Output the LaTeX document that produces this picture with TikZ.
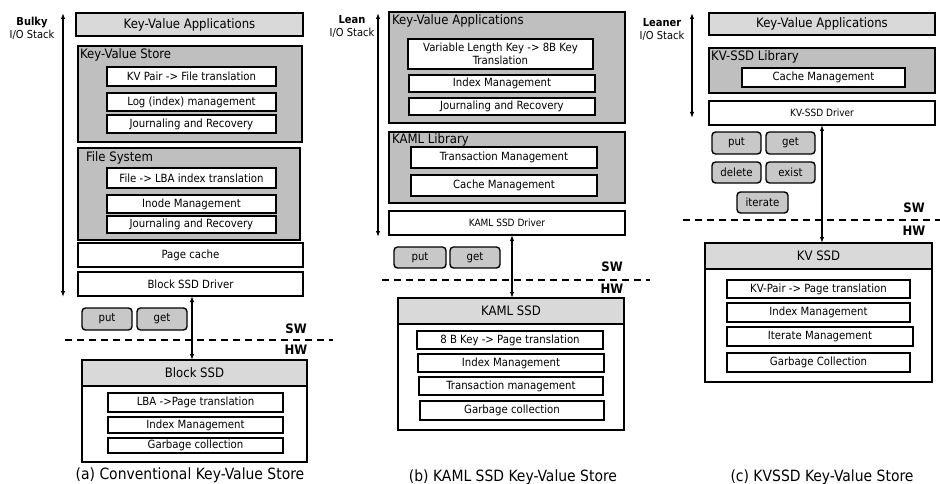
\documentclass[tikz,border=0pt]{standalone}
\usepackage{fontspec}
\setmainfont{DejaVu Sans Condensed}
\usetikzlibrary{arrows.meta}

\definecolor{lightg}{RGB}{217,217,217}
\definecolor{darkg}{RGB}{191,191,191}
\definecolor{cmdg}{RGB}{200,200,200}

% box from corner (x1,y1) to (x2,y2), pixel units, y downwards
\newcommand\bx[7]{\node[#1,minimum width={(#5-#3)*1pt},minimum height={(#6-#4)*1pt}] (#2) at ({(#3+#5)/2},{(#4+#6)/2}) {#7};}

\tikzset{
  fbig/.style={font=\fontsize{13}{15}\selectfont},
  fmid/.style={font=\fontsize{11.3}{13}\selectfont},
  fsm/.style={font=\fontsize{10}{12}\selectfont},
  anybox/.style={draw=black,inner sep=0pt,outer sep=0pt,align=center},
  appbox/.style={anybox,fill=lightg,line width=1.6pt,fbig},
  layer/.style={anybox,fill=darkg,line width=1.4pt},
  item/.style={anybox,fill=white,line width=1.8pt,fmid},
  plain/.style={anybox,fill=white,line width=1.4pt,fmid},
  drvsm/.style={anybox,fill=white,line width=1.4pt,fsm},
  cmdbox/.style={anybox,fill=cmdg,line width=1.4pt,rounded corners=3.5pt,fmid},
  hdr/.style={anybox,fill=lightg,line width=1.4pt,fbig},
  ssdbody/.style={anybox,fill=white,line width=1.4pt},
  ttl/.style={anchor=north west,inner sep=0pt,fbig},
  stacklbl/.style={align=center,inner sep=0pt,font=\fontsize{11}{13}\selectfont},
  swhw/.style={inner sep=0pt,font=\fontsize{13}{15}\selectfont\bfseries},
  captext/.style={inner sep=0pt,font=\fontsize{15.5}{18}\selectfont},
  biarrow/.style={line width=1.2pt,{Latex[length=6pt,width=4.5pt]}-{Latex[length=6pt,width=4.5pt]}},
  swline/.style={line width=1.5pt,dash pattern=on 7pt off 5pt},
}

\begin{document}
\begin{tikzpicture}[x=1pt,y=-1pt]
\useasboundingbox (0,0) rectangle (940,484);

% ---------------- (a) conventional stack ----------------
\node[stacklbl] (a-lbl) at (32,28) {\textbf{Bulky}\\I/O Stack};
\coordinate (a-top) at (63,13);
\coordinate (a-bot) at (63,297);
\draw[biarrow] (a-top) -- (a-bot);

\bx{appbox}{a-app}{76}{13}{303}{36}{Key-Value Applications}
\bx{layer}{a-kvs}{78}{46}{302}{142}{}
\node[ttl] (a-kvs-t) at (80,48) {Key-Value Store};
\bx{item}{a-kvs1}{107}{67}{276}{86}{KV Pair -> File translation}
\bx{item}{a-kvs2}{107}{93}{276}{111}{Log (index) management}
\bx{item}{a-kvs3}{107}{115}{276}{133}{Journaling and Recovery}

\bx{layer}{a-fs}{78}{148}{300}{240}{}
\node[ttl] (a-fs-t) at (86,151) {File System};
\bx{item}{a-fs1}{107}{168}{276}{188}{File -> LBA index translation}
\bx{item}{a-fs2}{107}{195}{276}{213}{Inode Management}
\bx{item}{a-fs3}{107}{216}{276}{233}{Journaling and Recovery}

\bx{plain}{a-pc}{78}{243}{303}{267}{Page cache}
\bx{plain}{a-drv}{78}{272}{303}{296}{Block SSD Driver}

\bx{cmdbox}{a-put}{82}{308}{132}{330}{put}
\bx{cmdbox}{a-get}{137}{308}{187}{330}{get}

\coordinate (a-dl) at (65,340);
\coordinate (a-dr) at (333,340);
\draw[swline] (a-dl) -- (a-dr);
\node[swhw] (a-sw) at (296,329) {SW};
\node[swhw] (a-hw) at (296,350) {HW};

\bx{ssdbody}{a-ssd}{82}{360}{307}{462}{}
\bx{hdr}{a-ssd-h}{82}{360}{307}{386}{Block SSD}
\bx{item}{a-ssd1}{108}{393}{283}{412}{LBA ->Page translation}
\bx{item}{a-ssd2}{108}{417}{283}{433}{Index Management}
\bx{item}{a-ssd3}{108}{438}{283}{453}{Garbage collection}

\draw[biarrow] (a-drv.south -| 192,0) -- (a-ssd-h.north -| 192,0);
\node[captext] (a-cap) at (190,475) {(a) Conventional Key-Value Store};

% ---------------- (b) KAML SSD stack ----------------
\node[stacklbl] (b-lbl) at (352,27) {\textbf{Lean}\\I/O Stack};
\coordinate (b-top) at (378,13);
\coordinate (b-bot) at (378,237);
\draw[biarrow] (b-top) -- (b-bot);

\bx{layer}{b-app}{389}{12}{625}{123}{}
\node[ttl] (b-app-t) at (392,14) {Key-Value Applications};
\bx{item}{b-app1}{408}{39}{593}{69}{Variable Length Key -> 8B Key\\Translation}
\bx{item}{b-app2}{409}{75}{595}{92}{Index Management}
\bx{item}{b-app3}{409}{98}{595}{115}{Journaling and Recovery}

\bx{layer}{b-lib}{389}{132}{625}{203}{}
\node[ttl] (b-lib-t) at (392,133) {KAML Library};
\bx{item}{b-lib1}{411}{147}{597}{168}{Transaction Management}
\bx{item}{b-lib2}{411}{175}{597}{196}{Cache Management}

\bx{drvsm}{b-drv}{389}{211}{625}{235}{KAML SSD Driver}

\bx{cmdbox}{b-put}{394}{247}{446}{268}{put}
\bx{cmdbox}{b-get}{450}{247}{500}{268}{get}

\coordinate (b-dl) at (382,280);
\coordinate (b-dr) at (650,280);
\draw[swline] (b-dl) -- (b-dr);
\node[swhw] (b-sw) at (612,267) {SW};
\node[swhw] (b-hw) at (612,289) {HW};

\bx{ssdbody}{b-ssd}{398}{298}{624}{430}{}
\bx{hdr}{b-ssd-h}{398}{298}{624}{324}{KAML SSD}
\bx{item}{b-ssd1}{417}{331}{603}{349}{8 B Key -> Page translation}
\bx{item}{b-ssd2}{418}{354}{604}{372}{Index Management}
\bx{item}{b-ssd3}{419}{377}{603}{395}{Transaction management}
\bx{item}{b-ssd4}{420}{401}{604}{420}{Garbage collection}

\draw[biarrow] (b-drv.south -| 512,0) -- (b-ssd-h.north -| 512,0);
\node[captext] (b-cap) at (513,477) {(b) KAML SSD Key-Value Store};

% ---------------- (c) KV-SSD stack ----------------
\node[stacklbl] (c-lbl) at (662,30) {\textbf{Leaner}\\I/O Stack};
\coordinate (c-top) at (692,13);
\coordinate (c-bot) at (692,118);
\draw[biarrow] (c-top) -- (c-bot);

\bx{appbox}{c-app}{709}{13}{935}{35}{Key-Value Applications}
\bx{layer}{c-lib}{709}{48}{935}{93}{}
\node[ttl] (c-lib-t) at (711,50) {KV-SSD Library};
\bx{item}{c-lib1}{742}{68}{905}{87}{Cache Management}

\bx{drvsm}{c-drv}{709}{101}{935}{125}{KV-SSD Driver}

\bx{cmdbox}{c-put}{712}{132}{761}{154}{put}
\bx{cmdbox}{c-get}{766}{132}{815}{154}{get}
\bx{cmdbox}{c-del}{712}{162}{761}{183}{delete}
\bx{cmdbox}{c-ex}{766}{162}{815}{183}{exist}
\bx{cmdbox}{c-it}{737}{192}{788}{213}{iterate}

\coordinate (c-dl) at (683,220);
\coordinate (c-dr) at (940,220);
\draw[swline] (c-dl) -- (c-dr);
\node[swhw] (c-sw) at (914,208) {SW};
\node[swhw] (c-hw) at (914,231) {HW};

\bx{ssdbody}{c-ssd}{705}{243}{932}{382}{}
\bx{hdr}{c-ssd-h}{705}{243}{932}{269}{KV SSD}
\bx{item}{c-ssd1}{727}{280}{910}{298}{KV-Pair -> Page translation}
\bx{item}{c-ssd2}{727}{303}{910}{322}{Index Management}
\bx{item}{c-ssd3}{727}{327}{913}{346}{Iterate Management}
\bx{item}{c-ssd4}{727}{353}{910}{372}{Garbage Collection}

\draw[biarrow] (c-drv.south -| 822,0) -- (c-ssd-h.north -| 822,0);
\node[captext] (c-cap) at (822,477) {(c) KVSSD Key-Value Store};
\end{tikzpicture}
\end{document}
